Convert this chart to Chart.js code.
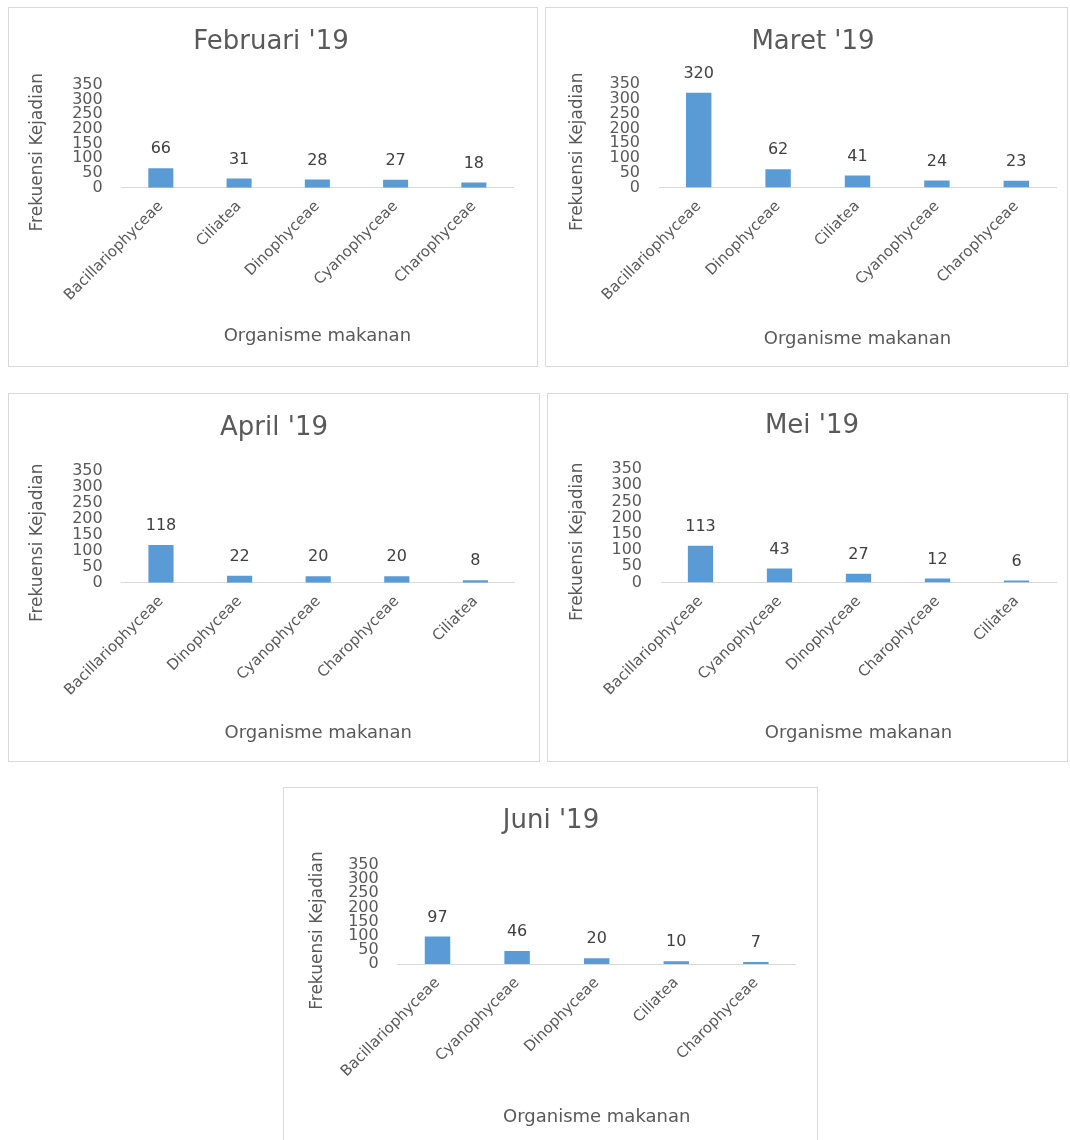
<!DOCTYPE html>
<html>
<head>
<meta charset="utf-8">
<script src="https://cdn.jsdelivr.net/npm/chart.js@4.4.1/dist/chart.umd.min.js"></script>
<style>
    body {
        margin: 0;
        background: #fff;
        width: 1070px;
        height: 1140px;
        position: relative;
        overflow: hidden;
    }
    .panel {
        position: absolute;
        box-sizing: border-box;
        border: 1px solid #d9d9d9;
    }
    .panel canvas {
        position: absolute;
        left: -1px;
        top: -1px;
    }
</style>
</head>
<body>
<div class="panel" id="panel-feb"><canvas id="chart-feb"></canvas></div>
<div class="panel" id="panel-mar"><canvas id="chart-mar"></canvas></div>
<div class="panel" id="panel-apr"><canvas id="chart-apr"></canvas></div>
<div class="panel" id="panel-mei"><canvas id="chart-mei"></canvas></div>
<div class="panel" id="panel-jun"><canvas id="chart-jun"></canvas></div>

<script>
// data
const febLabels = ["Bacillariophyceae", "Ciliatea", "Dinophyceae", "Cyanophyceae", "Charophyceae"];
const febValues = [66, 31, 28, 27, 18];

const marLabels = ["Bacillariophyceae", "Dinophyceae", "Ciliatea", "Cyanophyceae", "Charophyceae"];
const marValues = [320, 62, 41, 24, 23];

const aprLabels = ["Bacillariophyceae", "Dinophyceae", "Cyanophyceae", "Charophyceae", "Ciliatea"];
const aprValues = [118, 22, 20, 20, 8];

const meiLabels = ["Bacillariophyceae", "Cyanophyceae", "Dinophyceae", "Charophyceae", "Ciliatea"];
const meiValues = [113, 43, 27, 12, 6];

const junLabels = ["Bacillariophyceae", "Cyanophyceae", "Dinophyceae", "Ciliatea", "Charophyceae"];
const junValues = [97, 46, 20, 10, 7];

const yTicks = [0, 50, 100, 150, 200, 250, 300, 350];

const yTitleText = "Frekuensi Kejadian";
const xTitleText = "Organisme makanan";

const FONT = "'DejaVu Sans', sans-serif";
const GREY = "#595959";
const BAR = "#5B9BD5";

// value labels above bars
const valueLabels = {
    id: "valueLabels",
    afterDatasetsDraw(chart) {
        const ctx = chart.ctx;
        const meta = chart.getDatasetMeta(0);
        const data = chart.data.datasets[0].data;
        ctx.save();
        ctx.font = `16px ${FONT}`;
        ctx.fillStyle = "#404040";
        ctx.textAlign = "center";
        ctx.textBaseline = "middle";
        meta.data.forEach((bar, i) => {
            ctx.fillText(data[i], bar.x, bar.y - 19);
        });
        ctx.restore();
    }
};

// rotated y axis title, a bit below the plot centre like the original
const yAxisTitle = {
    id: "yAxisTitle",
    afterDraw(chart, args, opts) {
        const ctx = chart.ctx;
        const area = chart.chartArea;
        ctx.save();
        ctx.translate(opts.x, (area.top + area.bottom) / 2 + opts.shift);
        ctx.rotate(-Math.PI / 2);
        ctx.font = `17px ${FONT}`;
        ctx.fillStyle = GREY;
        ctx.textAlign = "center";
        ctx.textBaseline = "middle";
        ctx.fillText(opts.text, 0, 0);
        ctx.restore();
    }
};

const makeChart = (name, title, labels, values, g) => {
    const panel = document.getElementById("panel-" + name);
    const canvas = document.getElementById("chart-" + name);
    const [left, top, w, h] = g.box;

    panel.style.left = left + "px";
    panel.style.top = top + "px";
    panel.style.width = w + "px";
    panel.style.height = h + "px";
    canvas.width = w;
    canvas.height = h;

    const padR = left + w - g.plot[1];
    const padL = 2 * (g.titleX - left) - (w - padR);
    const titleTop = g.titleY - top - 15.6;
    const titleBottom = g.plot[2] - top - titleTop - 31.2;
    const yWidth = g.plot[0] - left - padL;
    const xHeight = top + h - g.plot[3];
    const xTitleBottom = top + h - g.xTitleY - 10.8;

    new Chart(canvas.getContext("2d"), {
        type: "bar",
        data: {
            labels,
            datasets: [{
                data: values,
                backgroundColor: BAR,
                borderWidth: 0,
                categoryPercentage: 1,
                barPercentage: 0.32
            }]
        },
        options: {
            responsive: false,
            animation: false,
            layout: {
                padding: { left: padL, right: padR, top: 0, bottom: 0 }
            },
            plugins: {
                legend: { display: false },
                tooltip: { enabled: false },
                title: {
                    display: true,
                    text: title,
                    color: GREY,
                    font: { family: FONT, size: 26, weight: "normal" },
                    padding: { top: titleTop, bottom: titleBottom }
                },
                yAxisTitle: {
                    text: yTitleText,
                    x: g.yTitleX - left,
                    shift: 16
                }
            },
            scales: {
                y: {
                    min: 0,
                    max: 350,
                    afterBuildTicks: scale => {
                        scale.ticks = yTicks.map(value => ({ value }));
                    },
                    afterFit: scale => {
                        scale.width = yWidth;
                    },
                    grid: { display: false, drawTicks: false },
                    border: { display: false },
                    ticks: {
                        autoSkip: false,
                        padding: 19,
                        color: GREY,
                        font: { family: FONT, size: 16 }
                    }
                },
                x: {
                    afterFit: scale => {
                        scale.height = xHeight;
                    },
                    grid: { display: false, drawTicks: false },
                    border: { display: true, color: "#d9d9d9", width: 1 },
                    ticks: {
                        autoSkip: false,
                        minRotation: 45,
                        maxRotation: 45,
                        padding: 10,
                        color: GREY,
                        font: { family: FONT, size: 15 }
                    },
                    title: {
                        display: true,
                        text: xTitleText,
                        color: GREY,
                        font: { family: FONT, size: 18 },
                        padding: { top: 0, bottom: xTitleBottom }
                    }
                }
            }
        },
        plugins: [valueLabels, yAxisTitle]
    });
};

const loadPage = () => {
    makeChart("feb", "Februari '19", febLabels, febValues, {
        box: [8, 7, 530, 360], plot: [121.7, 513, 84.7, 187.7],
        titleX: 271, titleY: 42, yTitleX: 38, xTitleY: 336
    });
    makeChart("mar", "Maret '19", marLabels, marValues, {
        box: [545, 7, 523, 360], plot: [659, 1056, 84, 187.5],
        titleX: 813, titleY: 42, yTitleX: 578, xTitleY: 339
    });
    makeChart("apr", "April '19", aprLabels, aprValues, {
        box: [8, 393, 532, 369], plot: [121.7, 514.7, 471, 582.7],
        titleX: 274, titleY: 428, yTitleX: 38, xTitleY: 733
    });
    makeChart("mei", "Mei '19", meiLabels, meiValues, {
        box: [547, 393, 521, 369], plot: [661, 1056, 469, 582.5],
        titleX: 812, titleY: 426, yTitleX: 578, xTitleY: 733
    });
    makeChart("jun", "Juni '19", junLabels, junValues, {
        box: [283, 787, 535, 360], plot: [397.7, 795.7, 865, 964],
        titleX: 551, titleY: 821, yTitleX: 318, xTitleY: 1117
    });
};

window.onload = () => loadPage();
</script>
</body>
</html>
